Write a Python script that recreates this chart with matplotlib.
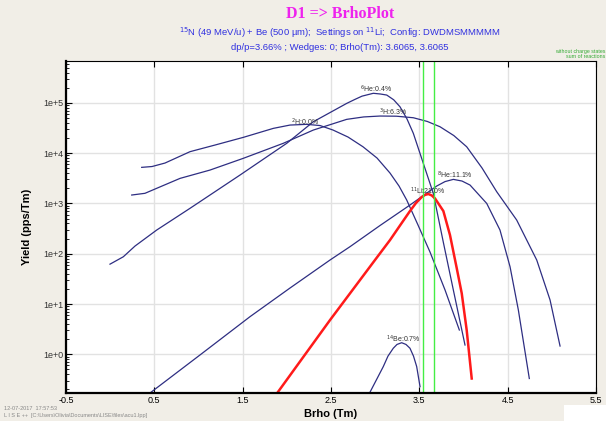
import matplotlib
matplotlib.use("Agg")
import matplotlib.pyplot as plt
import matplotlib.patches as mpatches

plt.rcParams['font.family'] = ['Liberation Sans', 'DejaVu Sans']

# Brho (Tm) and yield (pps/Tm)
h2_x = [0.357, 0.474, 0.621, 0.904, 1.187, 1.507, 1.847, 2.036, 2.225, 2.376, 2.523,
        2.693, 2.862, 3.021, 3.168, 3.270, 3.357, 3.485, 3.621, 3.791, 3.953]
h2_y = [5220, 5420, 6360, 10700, 14500, 20600, 31100, 36200, 37400, 35400, 28800,
        20900, 13400, 8000, 4020, 2220, 1170, 372, 108, 19.0, 3.04]

h3_x = [0.244, 0.394, 0.527, 0.791, 1.130, 1.507, 1.960, 2.300, 2.678, 2.870, 3.055,
        3.240, 3.432, 3.590, 3.734, 3.890, 4.036, 4.210, 4.376, 4.602, 4.829, 4.980, 5.093]
h3_y = [1470, 1590, 2000, 3150, 4610, 7890, 15700, 28800, 47000, 52500, 54700,
        54300, 50600, 42700, 33500, 22400, 13400, 5060, 1710, 468, 75, 12.0, 1.46]

he6_x = [-0.002, 0.149, 0.281, 0.527, 0.904, 1.470, 1.999, 2.300, 2.678, 2.770, 2.851,
         2.979, 3.060, 3.131, 3.210, 3.281, 3.360, 3.432, 3.545, 3.658, 3.771, 3.885, 4.017]
he6_y = [62, 87, 142, 296, 800, 3670, 15700, 42100, 97700, 117000, 136000,
         155000, 150000, 143000, 115000, 83600, 48000, 24800, 6270, 1590, 171, 19.0, 1.53]

he8_x = [0.338, 1.017, 1.583, 2.036, 2.489, 2.715, 3.055, 3.394, 3.697, 3.791, 3.885,
         3.983, 4.074, 4.263, 4.413, 4.527, 4.621, 4.745]
he8_y = [0.12, 0.97, 5.6, 20.8, 75, 138, 364, 929, 2220, 2720, 3010,
         2790, 2320, 1000, 296, 55, 7.6, 0.33]

li11_x = [1.877, 2.489, 2.998, 3.168, 3.281, 3.394, 3.462, 3.527, 3.565, 3.602, 3.640,
          3.677, 3.772, 3.847, 3.923, 3.980, 4.036, 4.093]
li11_y = [0.157, 4.8, 75, 187, 364, 706, 1020, 1340, 1480, 1540, 1445,
          1260, 706, 235, 52, 16.3, 3.04, 0.33]

be14_x = [2.919, 3.092, 3.145, 3.205, 3.247, 3.300, 3.349, 3.394, 3.434, 3.470, 3.508]
be14_y = [0.148, 0.57, 0.92, 1.32, 1.57, 1.70, 1.57, 1.32, 0.92, 0.57, 0.227]

# curve labels: text, x, y
labels = [
    (r'$^{6}$He:0.4%', 3.01, 1.88e5),
    (r'$^{3}$H:6.3%', 3.20, 6.56e4),
    (r'$^{2}$H:0.0%', 2.21, 4.15e4),
    (r'$^{8}$He:11.1%', 3.90, 3670),
    (r'$^{11}$Li:21.0%', 3.59, 1770),
    (r'$^{14}$Be:0.7%', 3.315, 2.0),
]

brho_window = [3.54, 3.67]
xticks = [-0.5, 0.5, 1.5, 2.5, 3.5, 4.5, 5.5]
yticks = [1, 10, 100, 1000, 1e4, 1e5]
ytick_labels = ['1e+0', '1e+1', '1e+2', '1e+3', '1e+4', '1e+5']

blue = '#2e2e82'

fig = plt.figure(figsize=(6.06, 4.21), dpi=100)
fig.patch.set_facecolor('#f1eee7')
ax = fig.add_axes([66 / 606, 1 - 393 / 421, 530 / 606, 332 / 421])
ax.set_facecolor('white')

for xs, ys in [(h2_x, h2_y), (h3_x, h3_y), (he6_x, he6_y), (he8_x, he8_y), (be14_x, be14_y)]:
    ax.plot(xs, ys, color=blue, lw=0.9, solid_joinstyle='round')
ax.plot(li11_x, li11_y, color='#ff1a1a', lw=1.8, solid_joinstyle='round')

for b in brho_window:
    ax.axvline(b, color='#44ee44', lw=1)

for txt, x, y in labels:
    ax.text(x, y, txt, fontsize=5, color='#333333', ha='center', va='center')

ax.set_yscale('log')
ax.set_xlim(-0.5, 5.5)
ax.set_ylim(0.17, 6.8e5)
ax.set_xticks(xticks)
ax.set_xticklabels([str(t) for t in xticks])
ax.set_yticks(yticks)
ax.set_yticklabels(ytick_labels)
ax.grid(True, which='major', color='#e2e2e2', lw=1)
ax.set_axisbelow(True)
ax.tick_params(axis='both', which='both', direction='in', top=True, labelsize=6.5, pad=2)
ax.tick_params(axis='y', which='major', length=4, labelcolor='#333333')
ax.tick_params(axis='y', which='minor', length=2)
ax.tick_params(axis='x', which='major', length=4)
for s in ['left', 'bottom']:
    ax.spines[s].set_linewidth(1.6)

ax.set_xlabel('Brho (Tm)', fontsize=8, fontweight='bold', labelpad=3)
ax.set_ylabel('Yield (pps/Tm)', fontsize=8, fontweight='bold', labelpad=8)

fig.text(0.561, 0.966, 'D1 => BrhoPlot', fontsize=11.5, fontweight='bold',
         family='Liberation Serif', color='#ee22ee', ha='center', va='center')
fig.text(0.561, 0.922, r'$^{15}$N (49 MeV/u) + Be (500 µm);  Settings on $^{11}$Li;  Config: DWDMSMMMMM',
         fontsize=6.8, color='#3030e0', ha='center', va='center')
fig.text(0.561, 0.888, 'dp/p=3.66% ; Wedges: 0; Brho(Tm): 3.6065, 3.6065',
         fontsize=6.8, color='#3030e0', ha='center', va='center')

fig.text(0.999, 1 - 52 / 421, 'without charge states', fontsize=3.8, color='#33aa33',
         ha='right', va='center')
fig.text(0.999, 1 - 57 / 421, 'sum of reactions', fontsize=3.8, color='#33aa33',
         ha='right', va='center')

fig.text(0.006, 1 - 408 / 421, '12-07-2017  17:57:53', fontsize=4, color='#888888', va='center')
fig.text(0.006, 1 - 415 / 421, r'L I S E ++  [C:\Users\Olivia\Documents\LISE\files\acu1.lpp]',
         fontsize=4, color='#888888', va='center')

fig.patches.append(mpatches.Rectangle((564 / 606, 0), 42 / 606, 16 / 421, transform=fig.transFigure,
                                      facecolor='white', edgecolor='none'))

fig.savefig('out.png', dpi=100, facecolor=fig.get_facecolor())
